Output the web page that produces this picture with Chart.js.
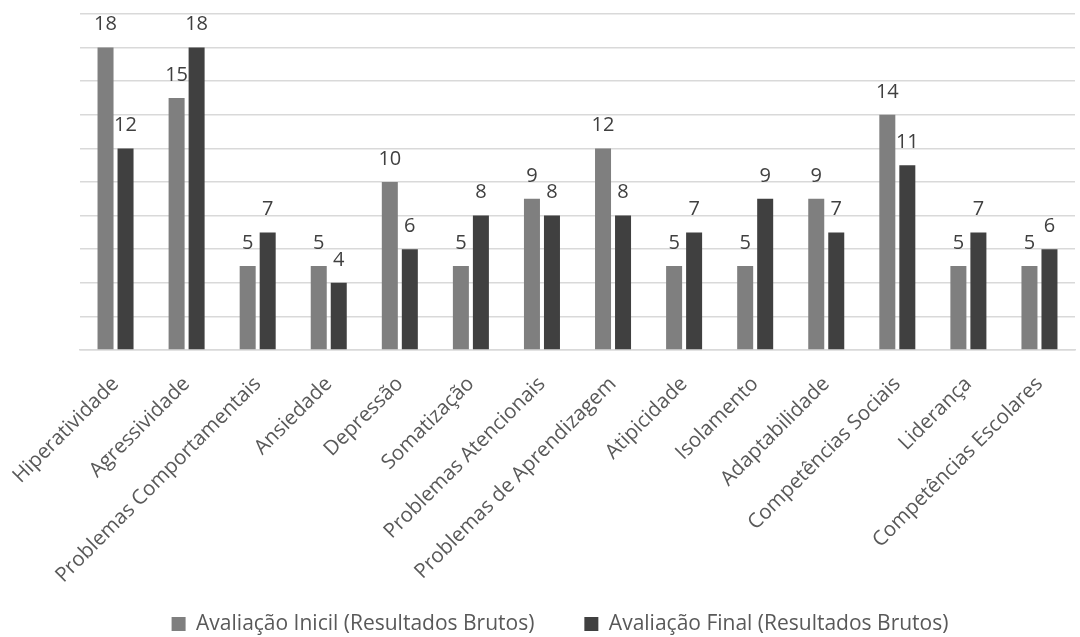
<!DOCTYPE html>
<html><head><meta charset="utf-8">
<script src="https://cdn.jsdelivr.net/npm/chart.js@4"></script>
<style>html,body{margin:0;padding:0;background:#fff}#wrap{width:1080px;height:637px}</style>
</head><body><div id="wrap"><canvas id="c" width="1080" height="637"></canvas></div>
<script>
const categories = ["Hiperatividade","Agressividade","Problemas Comportamentais","Ansiedade","Depressão","Somatização","Problemas Atencionais","Problemas de Aprendizagem","Atipicidade","Isolamento","Adaptabilidade","Competências Sociais","Liderança","Competências Escolares"];
const inicial = [18,15,5,5,10,5,9,12,5,5,9,14,5,5];
const final = [12,18,7,4,6,8,8,8,7,9,7,11,7,6];
const seriesNames = ["Avaliação Inicil (Resultados Brutos)","Avaliação Final (Resultados Brutos)"];

const labelPlugin = {
  id:'vlabels',
  afterInit(chart){
    const lg = chart.legend;
    if (lg) {
      const orig = lg.fit;
      lg.fit = function(){ orig.call(this); this.height = 45; };
    }
  },
  afterLayout(chart){
    const lg = chart.legend;
    if (lg) { lg.top = 637 - 73.5; lg.bottom = 637; }
  },
  afterDatasetsDraw(chart){
    const ctx = chart.ctx;
    ctx.save();
    ctx.font = '20px "Open Sans"';
    ctx.fillStyle = '#404040';
    ctx.textAlign = 'center';
    ctx.textBaseline = 'bottom';
    chart.data.datasets.forEach((ds,i)=>{
      chart.getDatasetMeta(i).data.forEach((el,j)=>{
        ctx.fillText(String(ds.data[j]), el.x, el.y - 13);
      });
    });
    ctx.restore();
  }
};

new Chart(document.getElementById('c'),{
  type:'bar',
  data:{labels:categories,datasets:[
    {label:seriesNames[0],data:inicial,backgroundColor:'#7f7f7f',categoryPercentage:0.563,barPercentage:0.8},
    {label:seriesNames[1],data:final,backgroundColor:'#404040',categoryPercentage:0.563,barPercentage:0.8}
  ]},
  options:{
    responsive:false,animation:false,
    layout:{padding:{left:45,right:5,top:14,bottom:0}},
    plugins:{
      legend:{position:'bottom',labels:{font:{family:'"Open Sans"',size:21},color:'#595959',boxWidth:14,boxHeight:14,padding:50}},
      tooltip:{enabled:false}
    },
    scales:{
      x:{grid:{display:false,drawTicks:false},border:{color:'#d9d9d9',width:1.5},
         afterFit(s){ s.height = 242; s.paddingLeft = 0; s.paddingRight = 0; },
         ticks:{maxRotation:45,minRotation:45,autoSkip:false,padding:22,font:{family:'"Open Sans"',size:20.5},color:'#595959'}},
      y:{min:0,max:20,afterFit(s){ s.width = 35; },ticks:{display:false,stepSize:2},grid:{color:'#d9d9d9',lineWidth:1.5,drawTicks:false},border:{display:false}}
    }
  },
  plugins:[labelPlugin]
});
</script></body></html>
